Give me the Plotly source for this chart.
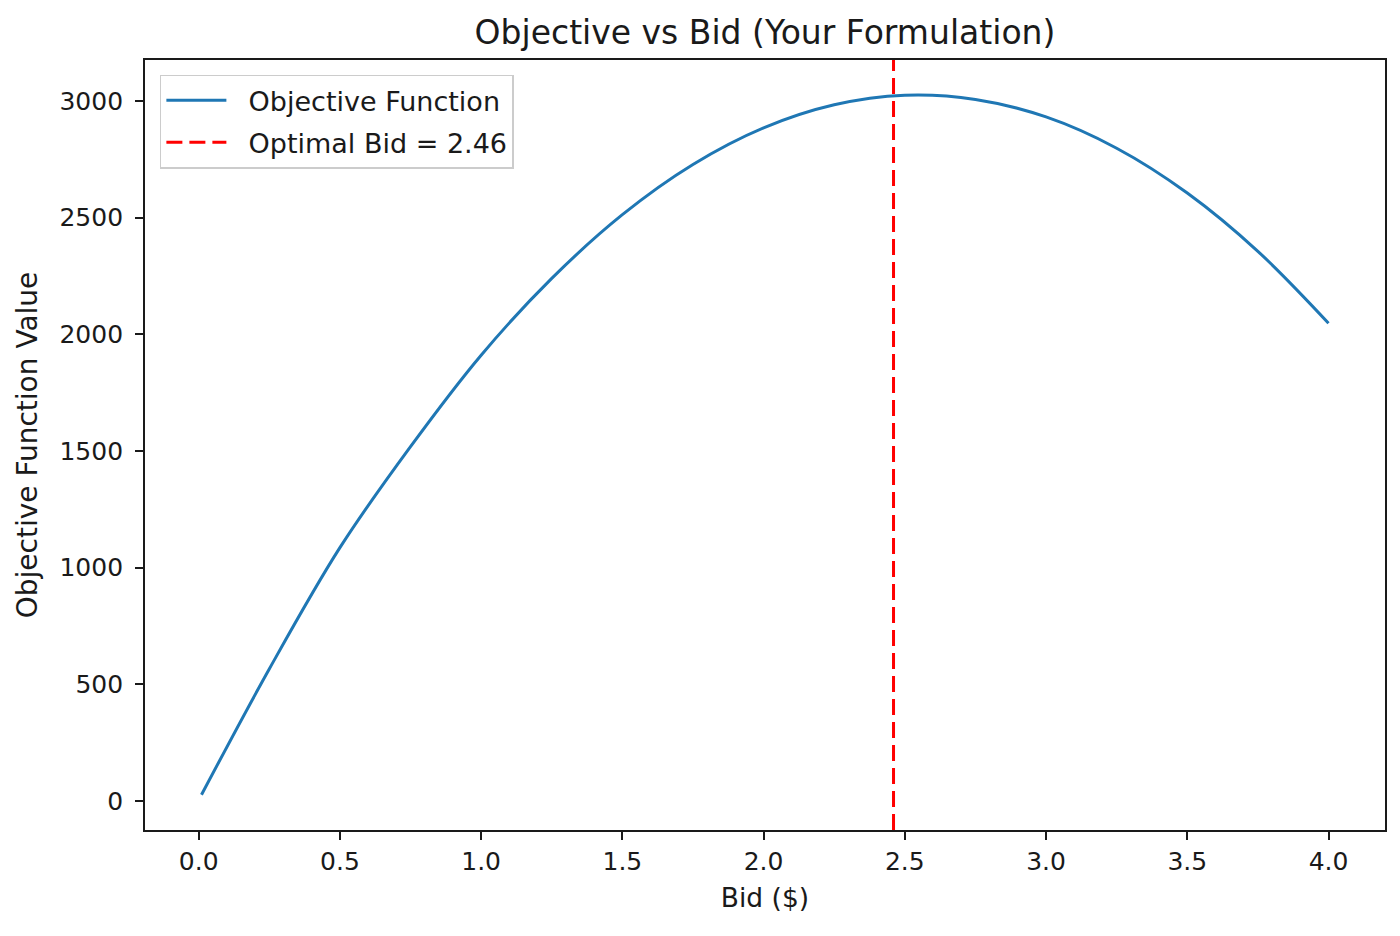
import plotly.graph_objects as go

# values
bid = [0.01, 0.25, 0.5, 0.75, 1.0, 1.25, 1.5, 1.75, 2.0, 2.25, 2.5, 2.75, 3.0, 3.25, 3.5, 3.75, 4.0]
objective = [26, 565, 1085, 1518, 1910, 2239, 2512, 2727, 2884, 2983, 3024, 3006, 2931, 2797, 2605, 2355, 2047]

optimal_bid = 2.46
x_range = [-0.19, 4.2]
y_range = [-125, 3175]
x_ticks = [0.0, 0.5, 1.0, 1.5, 2.0, 2.5, 3.0, 3.5, 4.0]
y_ticks = [0, 500, 1000, 1500, 2000, 2500, 3000]

font = "DejaVu Sans"
ink = "#1a1a1a"
pad = "\u00a0\u00a0"  # gap between legend line sample and its label

fig = go.Figure()
fig.add_trace(go.Scatter(
    name=pad + "Objective Function", x=bid, y=objective, mode="lines",
    line=dict(color="#1f77b4", width=3, shape="spline"),
    legendgroup="curve",
))
fig.add_trace(go.Scatter(
    name=pad + "Optimal Bid = {:.2f}".format(optimal_bid),
    x=[optimal_bid, optimal_bid], y=y_range, mode="lines",
    line=dict(color="red", width=3, dash="16px,7px"),
    legendgroup="opt",
))

axis_style = dict(
    showline=True, linecolor=ink, linewidth=1.8, mirror=True,
    ticks="outside", ticklen=8, tickwidth=1.8, tickcolor=ink,
    showgrid=False, zeroline=False,
    tickfont=dict(family=font, size=25, color=ink),
)

# page body has an 8px margin, so the figure is shrunk and margins shifted
fig.update_layout(
    width=1392, height=928,
    paper_bgcolor="white", plot_bgcolor="white",
    margin=dict(l=137, r=15, t=52, b=106),
    title=dict(text="Objective vs Bid (Your Formulation)", x=0.5, xref="paper", xanchor="center",
               y=1 - 24 / 928, yref="container", yanchor="middle",
               font=dict(family=font, size=33, color=ink)),
    legend=dict(x=0.012, y=0.981, xanchor="left", yanchor="top",
                bgcolor="rgba(255,255,255,0.8)", bordercolor="#cccccc", borderwidth=1.5,
                font=dict(family=font, size=27, color=ink), tracegroupgap=4,
                itemwidth=60),
    showlegend=True,
)
fig.update_xaxes(axis_style, range=x_range, tickvals=x_ticks, tickformat=".1f",
                 title=dict(text="Bid ($)", font=dict(family=font, size=26.5, color=ink), standoff=14))
fig.update_yaxes(axis_style, range=y_range, tickvals=y_ticks, ticklabelstandoff=7,
                 title=dict(text="Objective Function Value", font=dict(family=font, size=28, color=ink), standoff=14))

fig.write_html("out.html")
